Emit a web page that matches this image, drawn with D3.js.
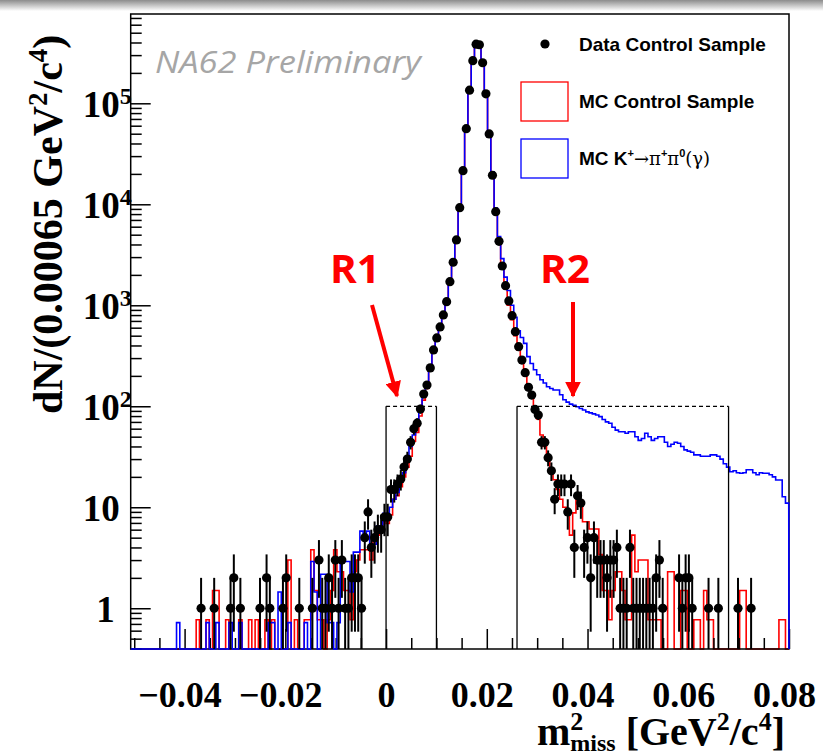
<!DOCTYPE html>
<html lang="en">
<head>
  <meta charset="UTF-8" />
  <title>NA62 m2miss control sample</title>
  <script src="https://d3js.org/d3.v7.min.js"></script>
  <style>
    html, body { margin: 0; padding: 0; background: #ffffff; overflow: hidden; }
    svg { display: block; }
    .tick-label { font-family: 'Liberation Serif', serif; font-weight: bold; fill: #000; }
    .legend-text { font-family: 'Liberation Sans', Arial, sans-serif; font-weight: bold; font-size: 19px; fill: #000; }
    .sym { font-family: 'DejaVu Serif', serif; font-weight: normal; }
  </style>
</head>
<body>
<svg id="chart" width="823" height="755"></svg>
<script>
// binning: 0.00065 GeV^2/c^4 per bin, first bin edge at -0.0507 (bin 78 starts at 0)
const binWidth = 0.00065;
const firstEdge = -0.0507;

// data control sample, counts per bin (201 bins)
const dataCounts = [
  0,0,0,0,0,0,0,0,0,0,
  0,0,0,0,0,0,0,0,0,0,
  0,1,0,0,0,1,0,0,0,0,
  1,2,0,1,0,0,0,0,0,1,
  0,2,1,0,0,0,1,2,0,0,
  0,1,0,0,0,1,0,3,1,1,
  2,1,3,1,3,1,1,2,2,2,
  1,5,9,4,5,6,6,8,8,15,
  15,17,19,25,30,44,60,68,94,132,
  162,240,361,475,610,802,1086,1713,2667,4436,
  9250,21500,56100,135000,264000,385000,380000,252000,124000,49700,
  19400,8450,4300,2450,1563,1104,789,548,389,287,
  215,154,129,93,82,44,44,31,23,12,
  17,17,17,9,17,4,13,11,4,5,
  2,5,3,3,3,2,3,3,4,1,
  1,1,4,1,1,1,1,1,1,1,
  2,3,1,0,0,0,0,2,1,2,
  2,1,0,0,0,0,1,0,0,1,
  0,0,0,0,0,1,0,0,0,1,
  0,0,0,0,0,0,0,0,0,0,
  0
];

// MC control sample (normalised)
const mcControl = [
  0,0,0,0,0,0,0,0,0,0,
  0,0,0,0,0,0,0,0,0,0,
  0.77,0,0,0.77,0,1.5,1.5,0,0,0.77,
  0,0,0,0.77,0,0,0.77,0,0.77,0,
  0,0.77,0,0.77,0,0,0,0,3.0,0,
  0.77,0,0,0.77,0.77,3.8,1.5,0.77,0.77,0,
  0.77,1.5,3.8,2.3,2.3,1.5,1.5,0.77,2.3,3.0,
  3.8,3.8,3.8,3.0,4.6,5.3,6.1,8.4,6.9,8.4,
  12,13,16,20,25,32,45,55,80,115,
  150,230,340,460,600,790,1080,1700,2650,4400,
  9200,21500,56000,134000,265000,385000,380000,252000,124000,49000,
  19000,8200,4100,2300,1450,1000,720,500,360,270,
  200,150,120,92,75,52,40,30,22,18.7,
  15,12,10,8.8,5.3,8.8,11.8,11.8,7.2,7.2,
  6.1,6.1,6.1,3.4,1.5,1.5,0.77,1.5,2.3,2.3,
  1.5,0.77,0.77,5.3,2.3,3.0,3.0,3.0,0.77,0.77,
  0.77,0.77,0,0,2.3,2.3,0,0,1.5,1.5,
  0,0,0.77,0.77,0,1.5,0.77,0.77,0,0,
  0,0,0,0,0,0,1.5,1.5,0,0,
  0,0,0,0,0,0,0,0,0.77,0.77,
  0
];

// MC K+ -> pi+ pi0 (gamma) (normalised)
const mcK2pi = [
  0,0,0,0,0,0,0,0,0,0,
  0,0,0,0,0.72,0,0,0,0,0,
  0,0,0,0.72,0,0,0.72,0,0,0,
  0.72,0,0,0.72,0,0,0,0,0,0,
  0,0,0.72,0.72,0,1.45,0,0,0.72,0,
  0,0,0,0.72,0,2.9,1.45,0,2.17,2.17,
  0.72,0.72,0,0.72,2.9,2.9,2.9,1.45,3.6,3.6,
  5.8,5.1,5.8,4.3,4.3,6.5,6.5,8.7,8.7,10,
  12,14,18,22,30,40,52,70,95,130,
  170,240,340,480,620,820,1100,1700,2700,4500,
  9000,22000,57000,135000,270000,390000,385000,255000,125000,52000,
  21000,9200,4800,2900,1900,1400,1000,760,560,480,
  420,310,265,230,205,183,170,156,150,145,
  145,130,116,110,105,102,99,95,92,88,
  86,84,82,79,74,70,68,62,58,56,
  56,54,56,56,50,46,48,54,50,46,
  48,50,50,44,40,42,44,43,40,37,
  36,35,33,33,32,32,32,33,33,32,
  30,27,25,22.5,23,22,21.7,22,23.5,23.5,
  22,21,22,21.7,21.7,21,20,18.6,18.6,12.7,
  11
];

const xTicksMajor = [-0.04, -0.02, 0, 0.02, 0.04, 0.06, 0.08];
const xTickLabels = ["\u22120.04", "\u22120.02", "0", "0.02", "0.04", "0.06", "0.08"];
const yTicksMajor = [1, 10, 100, 1000, 10000, 100000];
const yTickExp = [null, null, "2", "3", "4", "5"];

// signal regions
const regions = [
  { name: "R1", lo: 0.0, hi: 0.01, level: 100 },
  { name: "R2", lo: 0.026, hi: 0.068, level: 100 }
];

const svg = d3.select("#chart");

// slide shadow at top
const defs = svg.append("defs");
const grad = defs.append("linearGradient").attr("id", "topShade").attr("x1", 0).attr("y1", 0).attr("x2", 0).attr("y2", 1);
grad.append("stop").attr("offset", "0%").attr("stop-color", "#8c8c8c");
grad.append("stop").attr("offset", "100%").attr("stop-color", "#ffffff");
svg.append("rect").attr("x", 0).attr("y", 0).attr("width", 823).attr("height", 11).attr("fill", "url(#topShade)");

const plot = { left: 130.7, right: 789, top: 14, bottom: 649 };

const x = d3.scaleLinear().domain([firstEdge, 0.08]).range([plot.left, plot.right]);
const y = d3.scaleLog().domain([0.395, 7.66e5]).range([plot.bottom, plot.top]);

const bins = dataCounts.map((d, i) => ({
  lo: firstEdge + i * binWidth,
  hi: firstEdge + (i + 1) * binWidth,
  data: d, red: mcControl[i], blue: mcK2pi[i]
}));

const clipY = v => (v > 0 ? Math.max(plot.top, Math.min(plot.bottom, y(v))) : plot.bottom);

function histPath(key) {
  const p = d3.path();
  p.moveTo(x(bins[0].lo), plot.bottom);
  bins.forEach(b => {
    const yy = clipY(b[key]);
    p.lineTo(x(b.lo), yy);
    p.lineTo(Math.min(x(b.hi), plot.right), yy);
  });
  p.lineTo(plot.right, plot.bottom);
  return p.toString();
}

// MC control first (ROOT draws the frame on top of the first histogram)
svg.append("path").attr("d", histPath("red"))
  .attr("fill", "none").attr("stroke", "#ff0000").attr("stroke-width", 1.6);

// frame and axes
const axisG = svg.append("g");
axisG.append("rect")
  .attr("x", plot.left).attr("y", plot.top)
  .attr("width", plot.right - plot.left).attr("height", plot.bottom - plot.top)
  .attr("fill", "none").attr("stroke", "#000").attr("stroke-width", 1.5);

const xMinor = d3.range(-50, 81, 5).map(v => v / 1000).filter(v => !xTicksMajor.some(m => Math.abs(m - v) < 1e-9));
axisG.append("g").attr("transform", `translate(0,${plot.bottom})`)
  .call(d3.axisBottom(x).tickValues(xMinor).tickSize(-11).tickFormat(""))
  .call(g => g.select(".domain").remove())
  .call(g => g.selectAll("line").attr("stroke-width", 1.5));

const xAx = axisG.append("g").attr("transform", `translate(0,${plot.bottom})`)
  .call(d3.axisBottom(x).tickValues(xTicksMajor).tickSize(-20).tickPadding(26)
    .tickFormat((d, i) => xTickLabels[i]));
xAx.select(".domain").remove();
xAx.selectAll("line").attr("stroke-width", 1.5);
xAx.selectAll("text").attr("class", "tick-label").attr("font-size", 36)
  .attr("dy", "0.9em").attr("dx", (d, i) => (d === 0 ? 0 : -5));

const yMinor = [];
for (let e = -1; e <= 5; e++) for (let m = 2; m <= 9; m++) {
  const v = m * Math.pow(10, e);
  if (v >= 0.395 && v <= 7.66e5) yMinor.push(v);
}
axisG.append("g").attr("transform", `translate(${plot.left},0)`)
  .call(d3.axisLeft(y).tickValues(yMinor).tickSize(-11).tickFormat(""))
  .call(g => g.select(".domain").remove())
  .call(g => g.selectAll("line").attr("stroke-width", 1.5));

const yAx = axisG.append("g").attr("transform", `translate(${plot.left},0)`)
  .call(d3.axisLeft(y).tickValues(yTicksMajor).tickSize(-20).tickFormat(""));
yAx.select(".domain").remove();
yAx.selectAll("line").attr("stroke-width", 1.5);
yAx.selectAll(".tick").each(function(d, i) {
  const t = d3.select(this).append("text").attr("class", "tick-label")
    .attr("font-size", 37).attr("y", 0).attr("dy", "0.35em").attr("fill", "#000");
  if (yTickExp[i]) {
    t.attr("x", -48).attr("text-anchor", "start");
    t.append("tspan").text("10");
    t.append("tspan").attr("font-size", 24).attr("dy", "-0.55em").text(yTickExp[i]);
  } else {
    t.attr("x", d === 1 ? -16 : -11).attr("text-anchor", "end").text(d === 1 ? "1" : "10");
  }
});

// MC K2pi
svg.append("path").attr("d", histPath("blue"))
  .attr("fill", "none").attr("stroke", "#0000ff").attr("stroke-width", 1.6);

// data with poisson error bars
const ptsG = svg.append("g");
const dataBins = bins.filter(b => b.data > 0);
ptsG.selectAll("line.err").data(dataBins).enter().append("line")
  .attr("class", "err")
  .attr("x1", b => x((b.lo + b.hi) / 2)).attr("x2", b => x((b.lo + b.hi) / 2))
  .attr("y1", b => clipY(b.data + Math.sqrt(b.data)))
  .attr("y2", b => clipY(b.data - Math.sqrt(b.data)))
  .attr("stroke", "#000").attr("stroke-width", 2);
ptsG.selectAll("circle").data(dataBins).enter().append("circle")
  .attr("cx", b => x((b.lo + b.hi) / 2)).attr("cy", b => y(b.data))
  .attr("r", 4.6).attr("fill", "#000");

// signal region boxes
regions.forEach(r => {
  const g = svg.append("g");
  [r.lo, r.hi].forEach(v => g.append("line")
    .attr("x1", x(v)).attr("x2", x(v)).attr("y1", plot.bottom).attr("y2", y(r.level))
    .attr("stroke", "#000").attr("stroke-width", 1.3));
  g.append("line").attr("x1", x(r.lo)).attr("x2", x(r.hi))
    .attr("y1", y(r.level)).attr("y2", y(r.level))
    .attr("stroke", "#000").attr("stroke-width", 1.3).attr("stroke-dasharray", "4,3");
});

// legend
const leg = svg.append("g");
leg.append("circle").attr("cx", 545).attr("cy", 44).attr("r", 4.6).attr("fill", "#000");
leg.append("text").attr("class", "legend-text").attr("x", 579).attr("y", 51).text("Data Control Sample");
leg.append("rect").attr("x", 521).attr("y", 82).attr("width", 47).attr("height", 39)
  .attr("fill", "none").attr("stroke", "#ff0000").attr("stroke-width", 1.3);
leg.append("text").attr("class", "legend-text").attr("x", 579).attr("y", 108).text("MC Control Sample");
leg.append("rect").attr("x", 521).attr("y", 139).attr("width", 47).attr("height", 39)
  .attr("fill", "none").attr("stroke", "#0000ff").attr("stroke-width", 1.3);
const kt = leg.append("text").attr("class", "legend-text").attr("x", 579).attr("y", 165);
kt.append("tspan").text("MC K");
kt.append("tspan").attr("font-size", 11).attr("dy", -8).text("+");
kt.append("tspan").attr("class", "sym").attr("font-size", 18).attr("dy", 8).text("\u2192\u03c0");
kt.append("tspan").attr("font-size", 11).attr("dy", -8).text("+");
kt.append("tspan").attr("class", "sym").attr("font-size", 18).attr("dy", 8).text("\u03c0");
kt.append("tspan").attr("font-size", 11).attr("dy", -8).text("0");
kt.append("tspan").attr("class", "sym").attr("font-size", 18).attr("dy", 8).text("(\u03b3)");

// axis titles
const yt = svg.append("text").attr("class", "tick-label").attr("font-size", 42)
  .attr("transform", "translate(62,414) rotate(-90)");
yt.append("tspan").text("dN/(0.00065 GeV");
yt.append("tspan").attr("font-size", 27).attr("dy", -15).text("2");
yt.append("tspan").attr("dy", 15).text("/c");
yt.append("tspan").attr("font-size", 27).attr("dy", -15).text("4");
yt.append("tspan").attr("dy", 15).text(")");

const xt = svg.append("text").attr("class", "tick-label").attr("font-size", 40)
  .attr("x", 537).attr("y", 745);
xt.append("tspan").text("m");
xt.append("tspan").attr("font-size", 26).attr("dy", -15).text("2");
xt.append("tspan").attr("font-size", 24).attr("dx", -13).attr("dy", 21).text("miss");
xt.append("tspan").attr("dy", -6).text(" [GeV");
xt.append("tspan").attr("font-size", 26).attr("dy", -15).text("2");
xt.append("tspan").attr("dy", 15).text("/c");
xt.append("tspan").attr("font-size", 26).attr("dy", -15).text("4");
xt.append("tspan").attr("dy", 15).text("]");

// annotations
svg.append("text").attr("x", 155).attr("y", 73)
  .attr("font-family", "'Open Sans', sans-serif").attr("font-style", "italic")
  .attr("font-size", 31).attr("fill", "#a6a6a6")
  .attr("textLength", 266).attr("lengthAdjust", "spacingAndGlyphs")
  .text("NA62 Preliminary");

defs.append("marker").attr("id", "arrowHead").attr("viewBox", "0 0 10 10")
  .attr("refX", 9).attr("refY", 5).attr("markerWidth", 4).attr("markerHeight", 4)
  .attr("markerUnits", "strokeWidth").attr("orient", "auto")
  .append("path").attr("d", "M0,0 L10,5 L0,10 Z").attr("fill", "#ff0000");

const ann = [
  { label: "R1", tx: 355, ty: 283, x1: 372, y1: 305, x2: 397, y2: 396 },
  { label: "R2", tx: 565, ty: 283, x1: 573, y1: 302, x2: 573, y2: 396 }
];
ann.forEach(a => {
  svg.append("text").attr("x", a.tx).attr("y", a.ty).attr("text-anchor", "middle")
    .attr("font-family", "'Open Sans', sans-serif").attr("font-weight", "bold")
    .attr("font-size", 40).attr("fill", "#ff0000")
    .attr("textLength", 50).attr("lengthAdjust", "spacingAndGlyphs").text(a.label);
  svg.append("line").attr("x1", a.x1).attr("y1", a.y1).attr("x2", a.x2).attr("y2", a.y2)
    .attr("stroke", "#ff0000").attr("stroke-width", 4).attr("marker-end", "url(#arrowHead)");
});
</script>
</body>
</html>
